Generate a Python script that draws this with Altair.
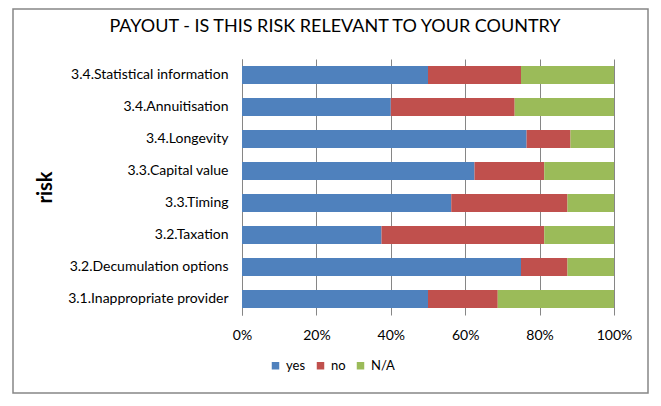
import altair as alt
import pandas as pd

risks = [
    "3.4.Statistical information",
    "3.4.Annuitisation",
    "3.4.Longevity",
    "3.3.Capital value",
    "3.3.Timing",
    "3.2.Taxation",
    "3.2.Decumulation options",
    "3.1.Inappropriate provider",
]
yes_pct = [50.0, 40.0, 76.5, 62.5, 56.25, 37.5, 75.0, 50.0]
no_pct = [25.0, 33.3, 11.8, 18.75, 31.25, 43.75, 12.5, 18.75]
na_pct = [25.0, 26.7, 11.7, 18.75, 12.5, 18.75, 12.5, 31.25]

answers = ["yes", "no", "N/A"]
colors = ["#4F81BD", "#C0504D", "#9BBB59"]

rows = []
for i, r in enumerate(risks):
    for k, (a, vals) in enumerate(zip(answers, [yes_pct, no_pct, na_pct])):
        rows.append({"risk": r, "answer": a, "value": vals[i], "order": k})
df = pd.DataFrame(rows)

FONT = "Lato"

bars = alt.Chart(df).mark_bar(size=18).encode(
    y=alt.Y("risk:N", sort=risks,
            scale=alt.Scale(paddingInner=0.44, paddingOuter=0.22),
            axis=alt.Axis(title="risk", titleFont=FONT, titleFontSize=20,
                          titleFontWeight="bold", titleColor="#000000",
                          titleAngle=-90, titleX=-197, titleY=128,
                          titleAlign="center", titleBaseline="middle",
                          labelFont=FONT, labelFontSize=14, labelColor="#000000",
                          labelPadding=14, ticks=False, domain=True,
                          domainColor="#868686", grid=False)),
    x=alt.X("value:Q", stack="normalize",
            scale=alt.Scale(domain=[0, 1]),
            axis=alt.Axis(title=None, format="%", values=[0, 0.2, 0.4, 0.6, 0.8, 1.0],
                          labelFont=FONT, labelFontSize=14, labelColor="#000000",
                          labelPadding=13, labelFlush=False, ticks=False, domain=False,
                          grid=True, gridColor="#868686", gridWidth=1)),
    color=alt.Color("answer:N", sort=answers,
                    scale=alt.Scale(domain=answers, range=colors),
                    legend=alt.Legend(title=None, orient="none", direction="horizontal",
                                      legendX=27, legendY=300,
                                      symbolType="square", symbolSize=56,
                                      symbolStrokeWidth=0, labelFont=FONT,
                                      labelFontSize=13, labelColor="#000000",
                                      columnPadding=8, labelOffset=4)),
    order=alt.Order("order:Q"),
)

frame = alt.Chart(pd.DataFrame({"a": [0]})).mark_rect(
    fill=None, stroke="#868686", strokeWidth=1.5, clip=False
).encode(
    x=alt.value(-229), x2=alt.value(406), y=alt.value(-50), y2=alt.value(334)
)

title = alt.Chart(pd.DataFrame({"t": ["PAYOUT - IS THIS RISK RELEVANT TO YOUR COUNTRY"]})).mark_text(
    font=FONT, fontSize=18, color="#000000", align="center", baseline="middle"
).encode(
    text="t:N", x=alt.value(93), y=alt.value(-32)
)

chart = alt.layer(frame, bars, title).properties(
    width=372, height=256,
    autosize=alt.AutoSizeParams(type="none"),
    padding={"left": 234, "top": 51, "right": 39, "bottom": 83},
).configure_view(stroke=None)

chart.save("out.html", embed_options={"renderer": "svg", "actions": False})
